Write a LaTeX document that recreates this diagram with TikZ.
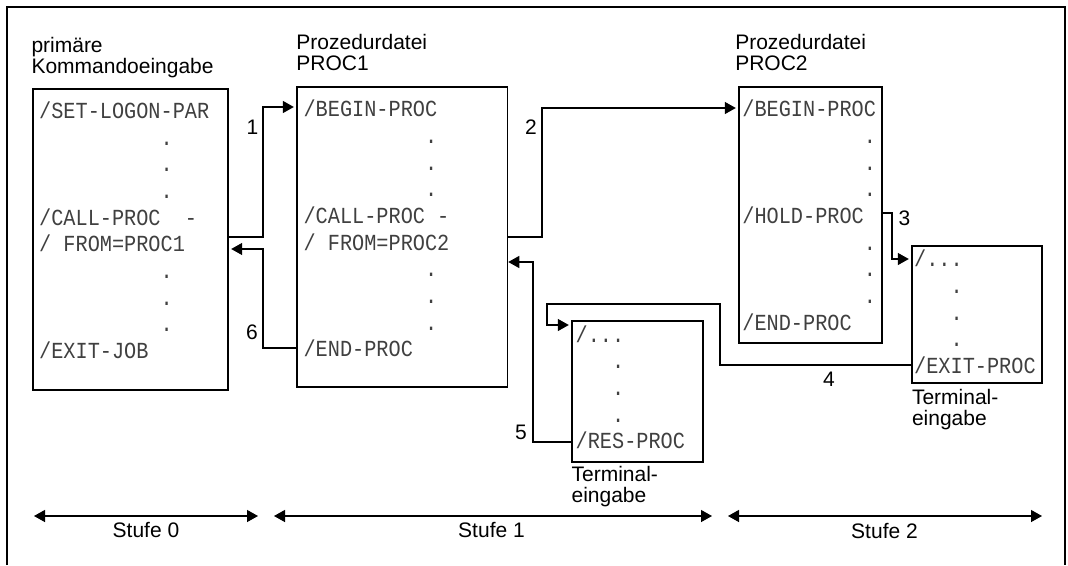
\documentclass[tikz,border=0pt]{standalone}
\usepackage{fontspec}
\setmainfont{Liberation Sans}
\newfontfamily\listfont[FakeStretch=0.88]{Liberation Mono}
\usetikzlibrary{arrows.meta}
\newcommand{\pad}[1]{\hspace*{#1\fontcharwd\font`M}}

\begin{document}
\begin{tikzpicture}[x=1pt, y=-1pt,
  box/.style={draw, line width=1.4pt, inner sep=0pt},
  listing/.style={anchor=north west, inner sep=0pt, align=left, text=black!75,
    font=\listfont\fontsize{23}{26.67}\selectfont},
  caption/.style={anchor=north west, inner sep=0pt, align=left,
    font=\fontsize{21}{21}\selectfont},
  num/.style={inner sep=0pt, font=\fontsize{21}{21}\selectfont},
  flow/.style={line width=1.3pt, shorten >=2.5pt, -{Triangle[length=11pt,width=12pt]}},
  span/.style={line width=1.3pt, {Triangle[length=11pt,width=12pt]}-{Triangle[length=11pt,width=12pt]}}]

  \useasboundingbox (0,0) rectangle (1068,565);
  \draw[line width=1.5pt] (7,565) -- (7,7) -- (1065,7) -- (1065,565);

  % Stufe 0: primary input
  \node[caption] (capA) at (31.3,36.7) {primäre\\Kommandoeingabe};
  \node[box, minimum width=195pt, minimum height=301pt] (boxA) at (130.5,239.5) {};
  \node[listing] (listA) at (39,99.6) {\strut/SET-LOGON-PAR\\\pad{10}.\\\pad{10}.\\\pad{10}.\\
    /CALL-PROC\pad{2}-\\/\pad{1}FROM=PROC1\\\pad{10}.\\\pad{10}.\\\pad{10}.\\/EXIT-JOB};

  % Stufe 1: PROC1
  \node[caption] (capB) at (296.2,34.2) {Prozedurdatei\\PROC1};
  \node[box, minimum width=210.5pt, minimum height=300pt] (boxB) at (402.3,237) {};
  \node[listing] (listB) at (303.4,98) {\strut/BEGIN-PROC\\\pad{10}.\\\pad{10}.\\\pad{10}.\\
    /CALL-PROC\pad{1}-\\/\pad{1}FROM=PROC2\\\pad{10}.\\\pad{10}.\\\pad{10}.\\/END-PROC};

  \node[box, minimum width=131pt, minimum height=141pt] (boxE) at (637.5,391.5) {};
  \node[listing] (listE) at (575.5,323.3) {\strut/...\\\pad{3}.\\\pad{3}.\\\pad{3}.\\/RES-PROC};
  \node[caption] (capE) at (571.4,465.7) {Terminal-\\eingabe};

  % Stufe 2: PROC2
  \node[caption] (capC) at (735.1,34.2) {Prozedurdatei\\PROC2};
  \node[box, minimum width=143pt, minimum height=256pt] (boxC) at (810.5,215) {};
  \node[listing] (listC) at (742.2,98) {\strut/BEGIN-PROC\\\pad{10}.\\\pad{10}.\\\pad{10}.\\
    /HOLD-PROC\\\pad{10}.\\\pad{10}.\\\pad{10}.\\/END-PROC};

  \node[box, minimum width=130pt, minimum height=137pt] (boxD) at (977,314.5) {};
  \node[listing] (listD) at (914,247.8) {\strut/...\\\pad{3}.\\\pad{3}.\\\pad{3}.\\/EXIT-PROC};
  \node[caption] (capD) at (911.8,388.7) {Terminal-\\eingabe};

  % control flow
  \draw[flow] (boxA.east |- 0,237) -- (263,237) |- (boxB.west |- 0,107);
  \draw[flow] (boxB.east |- 0,237) -- (542,237) |- (boxC.west |- 0,108);
  \draw[flow] (boxC.east |- 0,213) -- (892,213) |- (boxD.west |- 0,259);
  \draw[flow] (boxD.west |- 0,365) -- (720,365) -- (720,304) -- (547,304) |- (boxE.west |- 0,325);
  \draw[flow, shorten >=0pt] (boxE.west |- 0,442) -- (533,442) |- (boxB.east |- 0,262);
  \draw[flow] (boxB.west |- 0,348) -- (263,348) |- (boxA.east |- 0,249);

  \node[num] (n1) at (252.5,127) {1};
  \node[num] (n2) at (531,127) {2};
  \node[num] (n3) at (904.5,218) {3};
  \node[num] (n4) at (829,379) {4};
  \node[num] (n5) at (521,432.5) {5};
  \node[num] (n6) at (252,332) {6};

  % levels
  \coordinate (s0a) at (34,516);   \coordinate (s0b) at (258,516);
  \coordinate (s1a) at (274,516);  \coordinate (s1b) at (712,516);
  \coordinate (s2a) at (728,516);  \coordinate (s2b) at (1042,516);
  \draw[span] (s0a) -- (s0b);
  \draw[span] (s1a) -- (s1b);
  \draw[span] (s2a) -- (s2b);
  \node[num] (st0) at (146,530) {Stufe 0};
  \node[num] (st1) at (491.5,530) {Stufe 1};
  \node[num] (st2) at (884.5,531) {Stufe 2};

\end{tikzpicture}
\end{document}
